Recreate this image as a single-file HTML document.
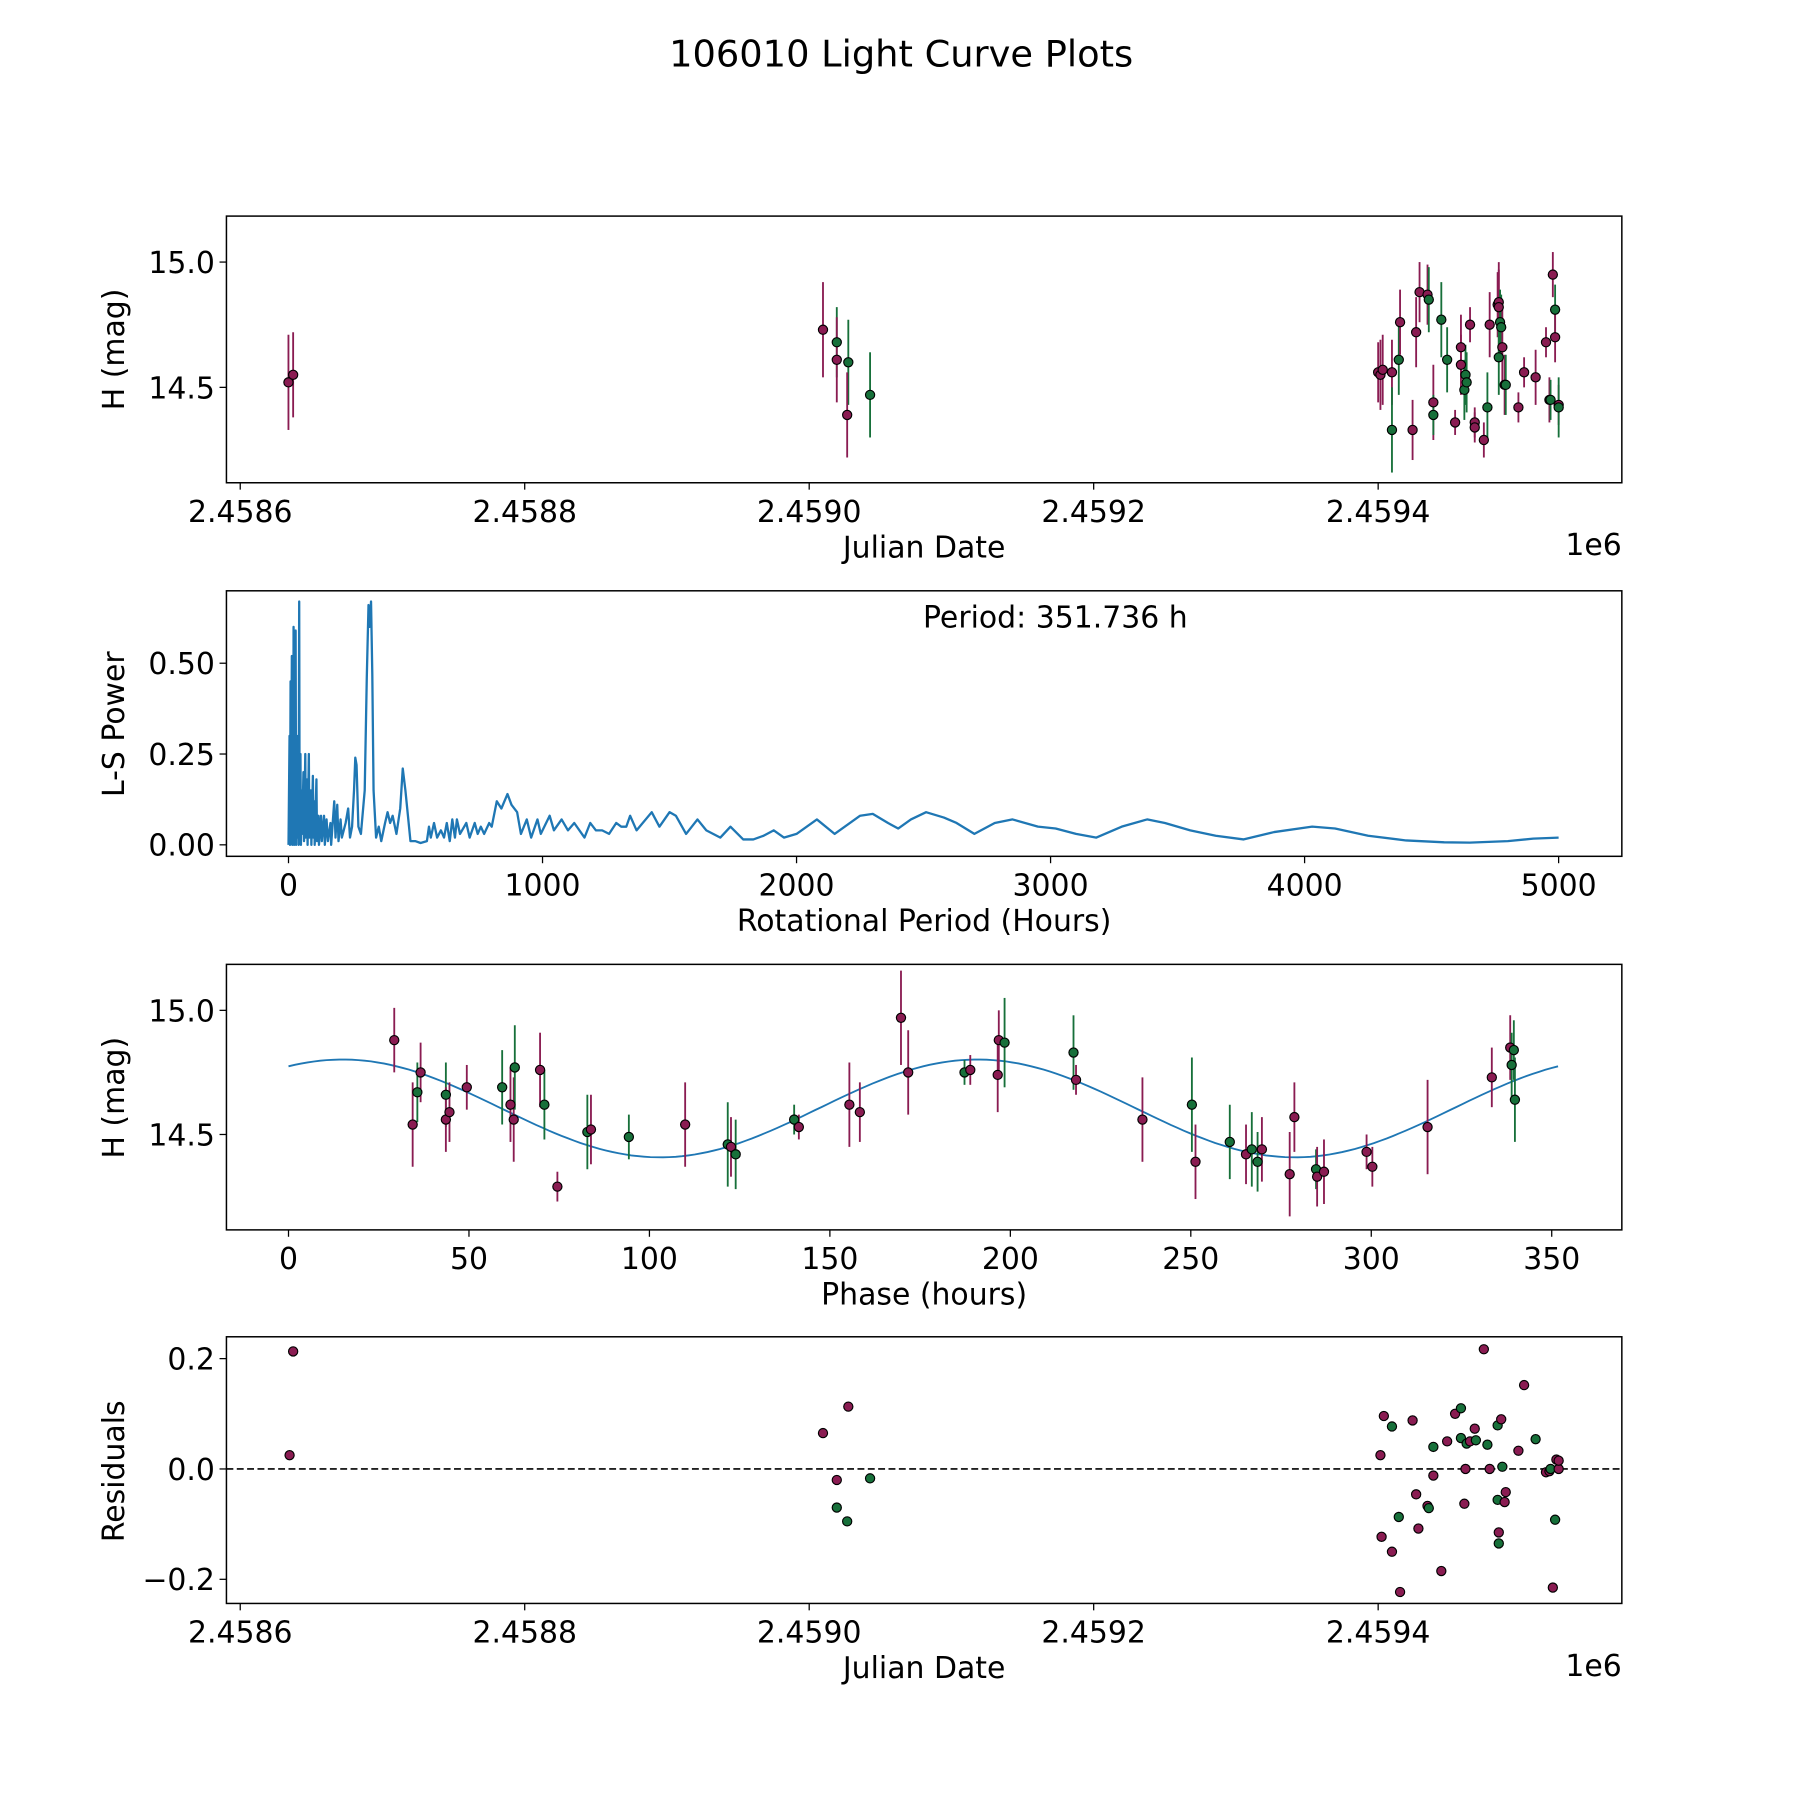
<!DOCTYPE html>
<html><head><meta charset="utf-8"><style>
html,body{margin:0;padding:0;background:#fff}
svg{display:block}
text{font-family:"DejaVu Sans","Liberation Sans",sans-serif;fill:#000}
</style></head><body>
<svg id="fig" width="1800" height="1800" viewBox="0 0 1566 1566" xmlns="http://www.w3.org/2000/svg">
<text x="784" y="58" font-size="32" text-anchor="middle">106010 Light Curve Plots</text>
</svg>
<script>
// ---------- Panel 1: raw light curve (days since JD 2458600) ----------
const lcDays = [33.9,37.2,409.7,419.4,419.4,427.5,426.7,442.8,800.0,801.6,803.2,809.7,809.7,814.5,815.4,824.2,826.7,829.1,834.7,835.6,838.8,838.8,844.4,848.5,854.1,858.2,858.2,860.6,861.4,862.2,864.6,867.9,867.9,874.3,876.8,878.4,884.0,884.8,884.8,884.8,885.7,886.5,887.3,888.9,889.7,898.6,902.6,910.7,918.0,920.4,921.2,922.8,924.4,924.4,926.9,926.9];
const lcMag = [14.52,14.55,14.73,14.68,14.61,14.60,14.39,14.47,14.56,14.55,14.57,14.56,14.33,14.61,14.76,14.33,14.72,14.88,14.87,14.85,14.44,14.39,14.77,14.61,14.36,14.66,14.59,14.49,14.55,14.52,14.75,14.36,14.34,14.29,14.42,14.75,14.83,14.84,14.82,14.62,14.76,14.74,14.66,14.51,14.51,14.42,14.56,14.54,14.68,14.45,14.45,14.95,14.81,14.70,14.43,14.42];
const lcErr = [0.19,0.17,0.19,0.14,0.17,0.17,0.17,0.17,0.12,0.14,0.14,0.13,0.17,0.14,0.13,0.12,0.14,0.12,0.12,0.13,0.15,0.08,0.15,0.13,0.05,0.13,0.12,0.12,0.12,0.12,0.07,0.06,0.06,0.07,0.14,0.13,0.13,0.13,0.18,0.15,0.13,0.13,0.15,0.12,0.12,0.06,0.06,0.11,0.06,0.09,0.08,0.09,0.10,0.10,0.08,0.12];
const lcBand = "mmmgmgmgmmmmggmmmmmgmgggmmmgggmmmmgmmmmgggmmgmmmmmgmgmmg";
// ---------- Panel 2: Lomb-Scargle periodogram ----------
const lsPeriod = [0,4,6,8,10,13,15,17,19,20,22,24,26,28,30,33,35,38,40,42,44,47,49,52,54,59,61,66,68,73,75,80,82,88,90,96,98,101,103,110,112,118,120,128,131,140,143,150,155,165,168,180,185,192,197,205,210,225,235,242,250,258,263,268,275,285,300,308,315,320,325,330,335,345,355,365,380,390,400,410,425,440,450,460,470,480,500,520,545,553,560,573,585,600,612,623,635,645,655,663,675,700,713,733,745,757,770,790,800,820,838,862,878,900,915,938,955,980,993,1028,1045,1075,1100,1125,1165,1188,1210,1235,1262,1290,1310,1330,1345,1370,1430,1460,1500,1525,1565,1610,1645,1700,1740,1790,1830,1870,1910,1950,2000,2080,2150,2250,2300,2360,2400,2450,2510,2580,2630,2700,2780,2850,2950,3020,3100,3180,3280,3380,3450,3550,3650,3760,3880,4030,4120,4250,4400,4550,4650,4800,4900,5000];
const lsPower = [0,0.3,0,0.45,0.02,0.52,0,0.35,0.01,0.6,0,0.4,0.05,0.59,0,0.3,0.02,0.2,0,0.67,0.01,0.25,0,0.15,0.03,0.2,0.01,0.25,0.02,0.18,0,0.25,0.02,0.15,0,0.19,0.02,0.12,0,0.18,0.01,0.08,0,0.08,0.01,0.08,0,0.07,0.01,0.06,0,0.12,0.02,0.11,0.01,0.07,0.02,0.06,0.1,0.02,0.05,0.15,0.24,0.22,0.05,0.03,0.15,0.46,0.66,0.6,0.67,0.47,0.15,0.02,0.05,0.01,0.06,0.09,0.06,0.08,0.03,0.1,0.21,0.15,0.08,0.01,0.01,0.005,0.01,0.05,0.02,0.06,0.02,0.04,0.02,0.06,0.01,0.07,0.02,0.07,0.03,0.06,0.02,0.06,0.03,0.05,0.03,0.06,0.05,0.12,0.1,0.14,0.11,0.09,0.03,0.07,0.02,0.07,0.03,0.08,0.04,0.07,0.04,0.06,0.02,0.06,0.04,0.04,0.03,0.06,0.05,0.05,0.08,0.04,0.09,0.05,0.09,0.08,0.03,0.07,0.04,0.02,0.05,0.015,0.015,0.025,0.04,0.02,0.03,0.07,0.03,0.08,0.085,0.06,0.045,0.07,0.09,0.075,0.06,0.03,0.06,0.07,0.05,0.045,0.03,0.02,0.05,0.07,0.06,0.04,0.025,0.015,0.035,0.05,0.045,0.025,0.012,0.007,0.006,0.01,0.017,0.02];
const bestPeriod = 351.736;
// ---------- Panel 3: phase-folded ----------
const phHours = [29.3,34.4,35.7,36.6,43.6,43.6,44.6,49.4,59.2,61.5,62.4,62.7,69.7,70.9,74.5,82.8,83.8,94.3,109.9,121.7,122.6,123.9,140.1,141.4,155.4,158.3,169.7,171.7,187.3,188.9,196.5,196.8,198.4,217.5,218.2,236.6,250.3,251.3,260.8,265.3,266.9,268.5,269.7,277.4,278.7,284.7,285.0,286.9,298.7,300.3,315.6,333.4,338.5,338.9,339.5,339.8];
const phMag = [14.88,14.54,14.67,14.75,14.66,14.56,14.59,14.69,14.69,14.62,14.56,14.77,14.76,14.62,14.29,14.51,14.52,14.49,14.54,14.46,14.45,14.42,14.56,14.53,14.62,14.59,14.97,14.75,14.75,14.76,14.74,14.88,14.87,14.83,14.72,14.56,14.62,14.39,14.47,14.42,14.44,14.39,14.44,14.34,14.57,14.36,14.33,14.35,14.43,14.37,14.53,14.73,14.85,14.78,14.84,14.64];
const phErr = [0.13,0.17,0.12,0.12,0.13,0.13,0.12,0.09,0.15,0.15,0.17,0.17,0.15,0.14,0.06,0.15,0.14,0.09,0.17,0.17,0.12,0.14,0.06,0.05,0.17,0.12,0.19,0.17,0.05,0.06,0.15,0.12,0.18,0.15,0.06,0.17,0.19,0.15,0.15,0.12,0.15,0.12,0.13,0.17,0.14,0.08,0.12,0.13,0.07,0.08,0.19,0.12,0.13,0.13,0.12,0.17];
const phBand = "mmgmgmmmgmmgmgmgmgmgmggmmmmmgmmmggmmgmgmggmmmgmmmmmmmggg";
const fitMean = 14.605, fitAmp = 0.197, fitPeakPhase = 15;
// ---------- Panel 4: residuals ----------
const resDays = [34.7,37.2,409.7,419.4,419.4,427.5,426.7,442.8,801.6,802.4,804.0,809.7,809.7,814.5,815.4,824.2,826.7,828.3,834.7,835.6,838.8,838.8,844.4,848.5,854.1,858.2,858.2,860.6,861.4,862.2,864.6,867.9,868.7,874.3,876.8,878.4,884.0,884.0,884.8,884.8,886.5,887.3,888.9,889.7,898.6,902.6,910.7,918.0,920.4,921.2,922.8,924.4,925.3,926.9,926.9];
const resVal = [0.025,0.213,0.065,-0.02,-0.07,0.113,-0.095,-0.017,0.025,-0.123,0.096,-0.15,0.077,-0.087,-0.223,0.088,-0.046,-0.108,-0.067,-0.071,-0.012,0.04,-0.185,0.05,0.1,0.11,0.056,-0.063,0,0.046,0.05,0.073,0.052,0.217,0.044,0,0.079,-0.056,-0.115,-0.135,0.09,0.004,-0.06,-0.042,0.033,0.152,0.054,-0.006,-0.004,0,-0.215,-0.092,0.017,0,0.015];
const resBand = "mmmmgmggmmmmggmmmmmgmgmmmggmmgmmgmgmggmgmgmmmmgmmgmgm";
const jdTicks = [0,200,400,600,800];
const jdTickLabels = ["2.4586","2.4588","2.4590","2.4592","2.4594"];

const NS="http://www.w3.org/2000/svg";
const svg=document.getElementById('fig');
const COL={m:'#8a1c52',g:'#17703a'};
function el(tag,attrs,parent){const e=document.createElementNS(NS,tag);for(const k in attrs)e.setAttribute(k,attrs[k]);(parent||svg).appendChild(e);return e;}
function txt(s,attrs,parent){const t=el('text',attrs,parent);t.textContent=s;return t;}

function axes(name,L,T,R,B){
  const g=el('g',{});
  
  
  const r=el('rect',{x:L,y:T,width:R-L,height:B-T,fill:'none',stroke:'#000','stroke-width':1.3},g);
  
  
  return g;
}
function xtick(g,x,B,label,name){
  const l=el('line',{x1:x,y1:B,x2:x,y2:B+6,stroke:'#000','stroke-width':1.1},g);
  
  
  const t=txt(label,{x:x,y:B+34,'font-size':26,'text-anchor':'middle'},g);
  
  
}
function ytick(g,y,L,label,name){
  const l=el('line',{x1:L-6,y1:y,x2:L,y2:y,stroke:'#000','stroke-width':1.1},g);
  
  
  const t=txt(label,{x:L-10,y:y+9.5,'font-size':26,'text-anchor':'end'},g);
  
  
}
function xlabel(g,s,y,name){const t=txt(s,{x:804,y:y,'font-size':26,'text-anchor':'middle'},g);}
function ylabel(g,s,cy,name){const t=txt(s,{x:0,y:0,'font-size':26,'text-anchor':'middle',transform:`translate(108,${cy}) rotate(-90)`},g);}
function point(g,x,y,c,name){const p=el('circle',{cx:x,cy:y,r:4,fill:COL[c],stroke:'#000','stroke-width':1},g);}
function errbar(g,x,y1,y2,c,name){const l=el('line',{x1:x,y1:y1,x2:x,y2:y2,stroke:COL[c],'stroke-width':1.6},g);}

const jdX=d=>209+d*1.2375;
// Panel 1
{
  const g=axes('light-curve-axes',197,188,1411,420);
  const yS=m=>228+(15-m)*218;
  jdTicks.forEach((d,i)=>xtick(g,jdX(d),420,jdTickLabels[i],'x'));
  [14.5,15.0].forEach(v=>ytick(g,yS(v),197,v.toFixed(1),'y'));
  xlabel(g,'Julian Date',485,'x-axis-title');
  ylabel(g,'H (mag)',304,'y-axis-title');
  const e=txt('1e6',{x:1411,y:483,'font-size':26,'text-anchor':'end'},g);
  lcDays.forEach((d,i)=>errbar(g,jdX(d),yS(lcMag[i]+lcErr[i]),yS(lcMag[i]-lcErr[i]),lcBand[i],'error-bar'));
  lcDays.forEach((d,i)=>point(g,jdX(d),yS(lcMag[i]),lcBand[i],'data-point'));
}
// Panel 2
{
  const g=axes('periodogram-axes',197,514,1411,745);
  const xS=p=>251+p*0.221, yS=v=>735-v*316;
  [0,1000,2000,3000,4000,5000].forEach(v=>xtick(g,xS(v),745,String(v),'x'));
  [0,0.25,0.5].forEach(v=>ytick(g,yS(v),197,v.toFixed(2),'y'));
  xlabel(g,'Rotational Period (Hours)',810,'x-axis-title');
  ylabel(g,'L-S Power',630,'y-axis-title');
  const d=lsPeriod.map((p,i)=>(i?'L':'M')+xS(p).toFixed(1)+','+yS(lsPower[i]).toFixed(1)).join('');
  const path=el('path',{d:d,fill:'none',stroke:'#1f77b4','stroke-width':2,'stroke-linejoin':'round'},g);
  
  
  const t=txt('Period: '+bestPeriod+' h',{x:803,y:546,'font-size':26},g);
  
  
}
// Panel 3
{
  const g=axes('phase-fold-axes',197,839,1411,1070);
  const xS=p=>251+p*3.14, yS=m=>879+(15-m)*216;
  [0,50,100,150,200,250,300,350].forEach(v=>xtick(g,xS(v),1070,String(v),'x'));
  [14.5,15.0].forEach(v=>ytick(g,yS(v),197,v.toFixed(1),'y'));
  xlabel(g,'Phase (hours)',1135,'x-axis-title');
  ylabel(g,'H (mag)',955,'y-axis-title');
  let d='';
  for(let i=0;i<=200;i++){const p=bestPeriod*i/200;const m=fitMean+fitAmp*Math.cos(4*Math.PI*(p-fitPeakPhase)/bestPeriod);d+=(i?'L':'M')+xS(p).toFixed(1)+','+yS(m).toFixed(1);}
  const path=el('path',{d:d,fill:'none',stroke:'#1f77b4','stroke-width':1.6},g);
  
  
  phHours.forEach((p,i)=>errbar(g,xS(p),yS(phMag[i]+phErr[i]),yS(phMag[i]-phErr[i]),phBand[i],'error-bar'));
  phHours.forEach((p,i)=>point(g,xS(p),yS(phMag[i]),phBand[i],'data-point'));
}
// Panel 4
{
  const g=axes('residuals-axes',197,1163,1411,1395);
  const yS=r=>1278-r*480;
  jdTicks.forEach((d,i)=>xtick(g,jdX(d),1395,jdTickLabels[i],'x'));
  [[0.2,'0.2'],[0,'0.0'],[-0.2,'\u22120.2']].forEach(v=>ytick(g,yS(v[0]),197,v[1],'y'));
  xlabel(g,'Julian Date',1460,'x-axis-title');
  ylabel(g,'Residuals',1280,'y-axis-title');
  const e=txt('1e6',{x:1411,y:1458,'font-size':26,'text-anchor':'end'},g);
  const z=el('line',{x1:197,y1:yS(0),x2:1411,y2:yS(0),stroke:'#000','stroke-width':1.4,'stroke-dasharray':'6,3'},g);
  
  
  resDays.forEach((d,i)=>point(g,jdX(d),yS(resVal[i]),resBand[i]||'m','residual-point'));
}
</script>
</body></html>
